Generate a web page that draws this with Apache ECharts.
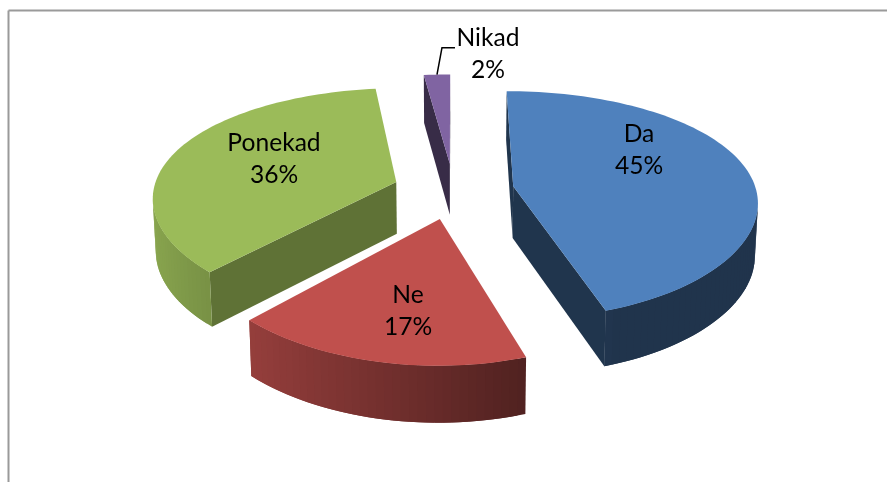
<!DOCTYPE html>
<html>
<head>
<meta charset="utf-8">
<style>
  html, body { margin: 0; padding: 0; background: #fff; }
  #chart { width: 887px; height: 482px; }
</style>
<script src="https://cdn.jsdelivr.net/npm/echarts@6/dist/echarts.min.js"></script>
</head>
<body>
<div id="chart"></div>
<script>
  // data
  var categories = ['Da', 'Ne', 'Ponekad', 'Nikad'];
  var values = [45, 17, 36, 2];

  // looks
  var colors = ['#4F81BD', '#C0504D', '#9BBB59', '#8064A2'];
  var faceShade = [0.41, 0.6, 0.61, 0.44];
  var labelPos = [[639, 150], [408, 311], [274, 159], [488, 54]];
  var drawOrder = [3, 2, 0, 1];

  // fake 3d pie, echarts has no such series so the slices are custom polygons
  var cx = 453.5, cy = 190.5;
  var scaleX = 243, scaleY = 112, depthX = 0.124, depthY = 0.165;
  var wallH = 52, explode = 0.25;

  function project(u, v, h) {
    var sx = scaleX * u / (1 - depthX * v);
    var sy = scaleY * v / (1 - depthY * v);
    if (h) {
      sx = sx * 0.99;
      sy = sy + wallH / (1 - 0.07 * v);
    }
    return [cx + sx, cy + sy];
  }

  function shade(hex, f) {
    var n = parseInt(hex.slice(1), 16);
    var r = Math.round((n >> 16 & 255) * f);
    var g = Math.round((n >> 8 & 255) * f);
    var b = Math.round((n & 255) * f);
    return 'rgb(' + r + ',' + g + ',' + b + ')';
  }

  function area(pts) {
    var s = 0;
    for (var i = 0; i < pts.length; i++) {
      var a = pts[i], b = pts[(i + 1) % pts.length];
      s += a[0] * b[1] - b[0] * a[1];
    }
    return s;
  }

  function poly(pts, color) {
    return {
      type: 'polygon',
      shape: { points: pts },
      style: { fill: color },
      silent: true
    };
  }

  var total = values.reduce(function (a, b) { return a + b; }, 0);

  function sliceRange(idx) {
    var before = 0;
    for (var i = 0; i < idx; i++) before += values[i];
    return [before / total * Math.PI * 2, (before + values[idx]) / total * Math.PI * 2];
  }

  function renderSlice(params, api) {
    var idx = api.value(0);
    var range = sliceRange(idx);
    var a0 = range[0], a1 = range[1], mid = (a0 + a1) / 2;
    var ou = explode * Math.sin(mid), ov = -explode * Math.cos(mid);
    var color = colors[idx];

    function rim(a, h) {
      return project(ou + Math.sin(a), ov - Math.cos(a), h);
    }
    var apex = project(ou, ov, 0), apexB = project(ou, ov, 1);
    var children = [];

    var startFace = [apex, rim(a0, 0), rim(a0, 1), apexB];
    var endFace = [rim(a1, 0), apex, apexB, rim(a1, 1)];
    if (area(startFace) < 0) children.push(poly(startFace, shade(color, faceShade[idx])));
    if (area(endFace) < 0) children.push(poly(endFace, shade(color, faceShade[idx])));

    // outer wall in small steps, gets darker towards the right
    // every step runs on under the next one so no seams show
    var steps = Math.max(2, Math.ceil((a1 - a0) / 0.03));
    var step = (a1 - a0) / steps;
    var top = [];
    for (var i = 0; i <= steps; i++) {
      var a = a0 + step * i;
      top.push(rim(a, 0));
      if (i < steps) {
        var b = Math.min(a1, a + step * 2);
        var q = [rim(a, 0), rim(b, 0), rim(b, 1), rim(a, 1)];
        if (area(q) < 0) {
          var f = Math.max(0.4, 0.53 - 0.36 * Math.sin(a + step / 2));
          children.push(poly(q, shade(color, f)));
        }
      }
    }
    top.push(apex);
    children.push(poly(top, color));

    // leader line of the small slice
    if (values[idx] < 5) {
      var m = rim(mid, 0);
      children.push({
        type: 'polyline',
        shape: { points: [[m[0], m[1]], [m[0] + 5, m[1] - 27], [m[0] + 18, m[1] - 27]] },
        style: { stroke: '#000', lineWidth: 1.5, fill: null },
        silent: true
      });
    }

    children.push({
      type: 'text',
      z2: 10,
      style: {
        x: labelPos[idx][0],
        y: labelPos[idx][1],
        text: categories[idx] + '\n' + values[idx] + '%',
        font: '24.6px Lato',
        lineHeight: 32,
        align: 'center',
        verticalAlign: 'middle',
        fill: '#000'
      },
      silent: true
    });

    return { type: 'group', children: children };
  }

  var myChart = echarts.init(document.getElementById('chart'), null, { renderer: 'canvas' });
  myChart.setOption({
    backgroundColor: '#fff',
    animation: false,
    tooltip: { show: false },
    graphic: [
      { type: 'line', silent: true, shape: { x1: 8.5, y1: 10.5, x2: 887, y2: 10.5 }, style: { stroke: '#9a9a9a', lineWidth: 2 } },
      { type: 'line', silent: true, shape: { x1: 8.5, y1: 10.5, x2: 8.5, y2: 482 }, style: { stroke: '#9a9a9a', lineWidth: 2 } }
    ],
    series: [{
      type: 'custom',
      coordinateSystem: 'none',
      renderItem: renderSlice,
      data: drawOrder.map(function (i) { return [i, values[i]]; })
    }]
  });
</script>
</body>
</html>
